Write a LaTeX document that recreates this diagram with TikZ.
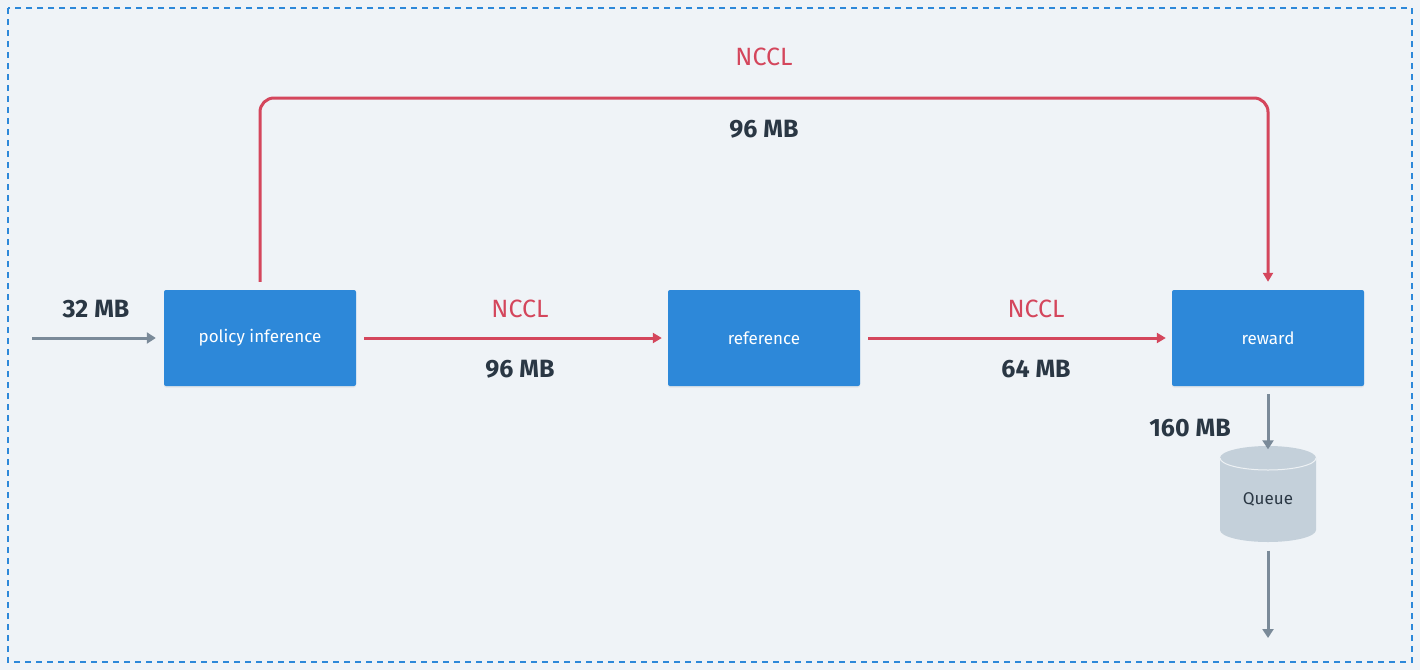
\documentclass[tikz,border=0pt]{standalone}
\usepackage{fontspec}
\setmainfont{Fira Sans}
\usetikzlibrary{arrows.meta,shadows}
\definecolor{bg}{HTML}{EFF3F7}
\definecolor{boxblue}{HTML}{2D88D9}
\definecolor{nred}{HTML}{D4465C}
\definecolor{arrgray}{HTML}{7A8A99}
\definecolor{txtdark}{HTML}{2A3744}
\definecolor{cyl}{HTML}{C4D0DA}
\tikzset{
  procbox/.style={fill=boxblue, rounded corners=2pt, minimum width=192pt, minimum height=96pt, inner sep=0pt, text=white, font=\fontsize{17}{20}\selectfont, drop shadow={shadow xshift=0pt, shadow yshift=-1.5pt, opacity=0.12}},
  redarrow/.style={draw=nred, line width=3pt, -{Triangle[length=9pt,width=10pt]}},
  grayarrow/.style={draw=arrgray, line width=3pt, -{Triangle[length=9pt,width=11pt]}},
  redlbl/.style={text=nred, font=\fontsize{25}{30}\selectfont},
  sizelbl/.style={text=txtdark, font=\fontsize{25}{30}\selectfont\bfseries},
}
\begin{document}
\begin{tikzpicture}[x=1pt,y=-1pt]
\useasboundingbox (0,0) rectangle (1420,670);
\fill[bg] (0,0) rectangle (1420,670);
\draw[boxblue, line width=2pt, dash pattern=on 6pt off 5pt] (8,8) rectangle (1412,662);

\node[procbox] (pi) at (260,338) {policy inference};
\node[procbox] (ref) at (764,338) {reference};
\node[procbox] (rew) at (1268,338) {reward};

% cylinder
\fill[cyl] (1220,458) -- (1220,530) arc[start angle=180, end angle=0, x radius=48, y radius=12] -- (1316,458) arc[start angle=0, end angle=-180, x radius=48, y radius=12] -- cycle;
\draw[white!70!cyl, line width=1pt] (1220,458) arc[start angle=180, end angle=0, x radius=48, y radius=12];
\node[minimum width=96pt, minimum height=103pt, inner sep=0pt, text=txtdark, font=\fontsize{17}{20}\selectfont] (queue) at (1268,499) {Queue};

\coordinate (src) at (32,338);
\coordinate (sink) at (1268,638);

\draw[grayarrow] (src) -- ([xshift=-8pt]pi.west);
\draw[redarrow] ([xshift=8pt]pi.east) -- ([xshift=-6pt]ref.west);
\draw[redarrow] ([xshift=8pt]ref.east) -- ([xshift=-6pt]rew.west);
\draw[redarrow, rounded corners=14pt] ([yshift=8pt]pi.north) |- (764,98) -| ([yshift=8pt]rew.north);
\draw[grayarrow] ([yshift=-8pt]rew.south) -- ([yshift=-2pt]queue.north);
\draw[grayarrow] (queue.south) -- (sink);

\node[sizelbl] (l32) at (96,309) {32 MB};
\node[redlbl] (n1) at (520,309) {NCCL};
\node[sizelbl] (l96a) at (520,369) {96 MB};
\node[redlbl] (n2) at (1036,309) {NCCL};
\node[sizelbl] (l64) at (1036,369) {64 MB};
\node[redlbl] (n3) at (764,57) {NCCL};
\node[sizelbl] (l96b) at (764,129) {96 MB};
\node[sizelbl] (l160) at (1190,428) {160 MB};
\end{tikzpicture}
\end{document}
